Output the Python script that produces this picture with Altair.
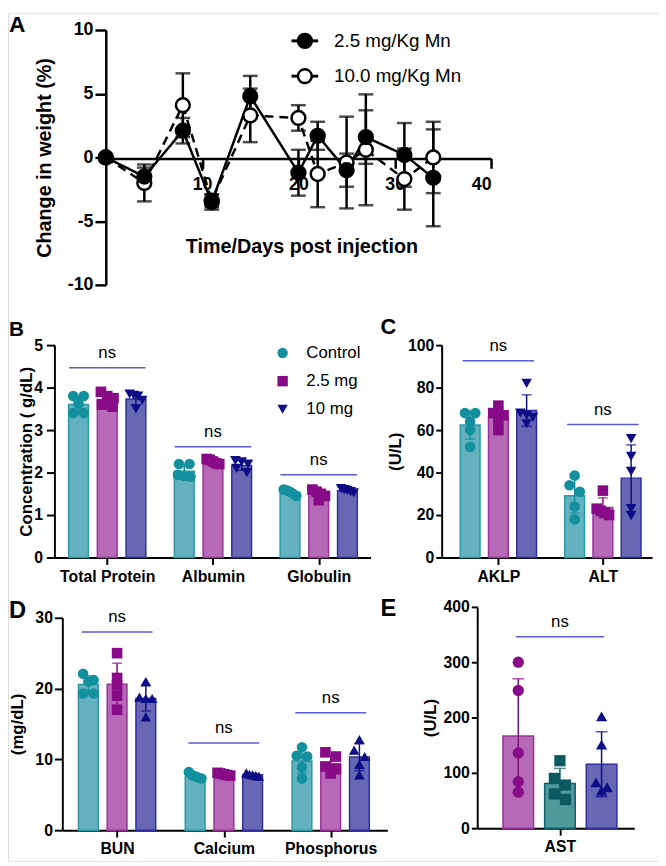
import altair as alt
import pandas as pd

FONT = "Liberation Sans, Arial, Helvetica, sans-serif"

# ---------------- Panel A : change in weight ----------------
A_SERIES = ["2.5 mg/Kg Mn", "10.0 mg/Kg Mn"]
A_DAYS = [0, 4, 8, 11, 15, 20, 22, 25, 27, 31, 34]
A_MEAN_25 = [0, -1.5, 2.1, -3.5, 4.8, -1.2, 1.7, -1.0, 1.6, 0.2, -1.6]
A_ERR_25 = [0, 0.7, 1.0, 0.6, 1.6, 1.8, 1.1, 1.3, 2.1, 2.5, 3.8]
A_MEAN_10 = [0, -2.0, 4.1, -3.4, 3.3, 3.1, -1.3, -0.4, 0.6, -1.7, 0.0]
A_ERR_10 = [0, 1.45, 2.5, 0.5, 2.1, 1.0, 2.6, 3.6, 4.35, 2.4, 2.8]

# ---------------- Panels B-E : serum chemistry ----------------
GROUPS = ["Control", "2.5 mg", "10 mg"]

B_CATS = ["Total Protein", "Albumin", "Globulin"]
B_CONTROL = [[3.8, 3.8, 3.62, 3.4, 3.4], [2.2, 2.2, 1.95, 1.92, 1.9], [1.6, 1.58, 1.55, 1.5, 1.45]]
B_MG25 = [[3.9, 3.8, 3.75, 3.6, 3.55], [2.32, 2.3, 2.26, 2.22, 2.2], [1.6, 1.55, 1.5, 1.45, 1.35]]
B_MG10 = [[3.85, 3.82, 3.8, 3.7, 3.5], [2.28, 2.25, 2.2, 2.1, 2.0], [1.62, 1.6, 1.58, 1.55, 1.52]]
B_NS = [4.47, 2.61, 1.95]

C_CATS = ["AKLP", "ALT"]
C_CONTROL = [[68, 68, 64, 60, 52], [38.6, 34, 31, 24, 18]]
C_MG25 = [[71.5, 68, 67, 64, 60], [31.5, 23, 22, 21, 20]]
C_MG10 = [[82, 68, 67, 66, 63], [56, 47.6, 40.6, 23, 19.7]]
C_NS = [92.6, 62.6]

D_CATS = ["BUN", "Calcium", "Phosphorus"]
D_CONTROL = [[22.1, 21.2, 21.0, 19.3, 19.3], [8.2, 7.8, 7.6, 7.4, 7.3], [11.7, 10.5, 10.4, 8.9, 7.3]]
D_MG25 = [[25, 21.5, 20.5, 19, 17], [8.1, 8.0, 7.9, 7.8, 7.7], [11.0, 10.4, 9.0, 8.6, 8.0]]
D_MG10 = [[21, 18.8, 18.6, 18.6, 16], [8.1, 7.9, 7.8, 7.7, 7.6], [12.8, 11.3, 10.4, 9.3, 7.8]]
D_NS = [28.0, 12.3, 16.6]

E_CATS = ["AST"]
E_CONTROL = [[300, 249, 136, 84, 65]]
E_MG25 = [[122, 90, 78, 62, 52]]
E_MG10 = [[202, 151, 83, 74, 68]]
E_NS = [346]

# ---------------- styles ----------------
BAR_FILL = ["#64b1bf", "#b569b6", "#6767b4"]
BAR_EDGE = ["#2a98a8", "#9a329b", "#2f2f9e"]
PT_COL = ["#12909e", "#870a87", "#0d0d85"]
E_BAR_FILL = ["#b569b6", "#4f989c", "#6767b4"]
E_BAR_EDGE = ["#9a329b", "#0f5f66", "#2f2f9e"]
E_PT_COL = ["#870a87", "#0b5a61", "#0d0d85"]
NS_COL = "#5b5bd6"
SHAPES_DOWN = ["circle", "square", "triangle-down"]
SHAPES_UP = ["circle", "square", "triangle-up"]

W, H = 658, 858


def swarm(vals, ppu, d):
    """GraphPad-like horizontal spreading of points that share a row (pixel offsets)."""
    order = sorted(range(len(vals)), key=lambda i: -vals[i])
    rows = []
    for i in order:
        if rows and abs(vals[rows[-1][0]] - vals[i]) * ppu < 0.6 * d:
            rows[-1].append(i)
        else:
            rows.append([i])
    off = [0.0] * len(vals)
    for r in rows:
        k = len(r)
        sp = d if k < 2 else min(d, 1.2 * d / (k - 1))
        for j, i in enumerate(r):
            off[i] = (j - (k - 1) / 2) * sp
    return off


def bar_panel(cats, ctrl, mid, hi, ns, L, fills, edges, pts, shapes):
    ppu = (L["y0"] - L["ytop"]) / L["ymax"]
    allv = [ctrl, mid, hi]
    rows = []
    for gi, cat in enumerate(cats):
        for ci, g in enumerate(GROUPS):
            vals = allv[ci][gi]
            xb = gi + (ci - 1) * L["off"] / L["step"]
            offs = swarm(vals, ppu, L["dot"])
            for v, o in zip(vals, offs):
                rows.append({"grp": g, "xbar": xb, "xpt": xb + o / L["step"], "value": v})
    df = pd.DataFrame(rows)
    h = L["nsh"] / L["step"]
    nsdf = pd.DataFrame({
        "xc": [float(i) for i in range(len(cats))],
        "x1": [i - h for i in range(len(cats))],
        "x2": [i + h for i in range(len(cats))],
        "y": ns,
        "label": ["ns"] * len(cats),
    })

    xs = alt.Scale(domain=[(L["x0"] - L["c0"]) / L["step"], (L["x1"] - L["c0"]) / L["step"]],
                   range=[L["x0"], L["x1"]], nice=False, zero=False)
    ys = alt.Scale(domain=[0, L["ymax"]], range=[L["y0"], L["ytop"]], nice=False, zero=False)
    lab = "[" + ",".join("'%s'" % c for c in cats) + "][datum.value]"
    xa = alt.Axis(orient="bottom", offset=-(H - L["y0"]), values=list(range(len(cats))),
                  labelExpr=lab, title=None, tickSize=7, labelPadding=4, labelFontSize=16,
                  labelFontWeight="bold", labelFont=FONT, domainWidth=2, tickWidth=2,
                  domainColor="black", tickColor="black", labelColor="black", grid=False)
    ya = alt.Axis(orient="left", offset=-L["x0"], values=L["yticks"], title=L["ytitle"],
                  titleX=L["titleX"], titleBaseline="alphabetic", titleFontSize=17,
                  titleFontWeight="bold", titleFont=FONT, titleColor="black",
                  tickSize=L["tick"], labelPadding=L["lpad"], labelFontSize=16,
                  labelFontWeight="bold", labelFont=FONT, labelColor="black",
                  domainWidth=2, tickWidth=2, domainColor="black", tickColor="black", grid=False)

    def X(f):
        return alt.X(f + ":Q", scale=xs, axis=xa, title=None)

    def Y(f):
        return alt.Y(f + ":Q", scale=ys, axis=ya, title=L["ytitle"])

    col = alt.Color("grp:N", scale=alt.Scale(domain=GROUPS, range=pts), legend=None)
    shp = alt.Shape("grp:N", scale=alt.Scale(domain=GROUPS, range=shapes), legend=None)

    base = alt.Chart(df)
    bars = base.transform_aggregate(mean="mean(value)", groupby=["xbar", "grp"]).mark_bar(
        size=L["bw"], strokeWidth=1.5, orient="vertical").encode(
        x=X("xbar"), y=Y("mean"),
        fill=alt.Fill("grp:N", scale=alt.Scale(domain=GROUPS, range=fills), legend=None),
        stroke=alt.Stroke("grp:N", scale=alt.Scale(domain=GROUPS, range=edges), legend=None))
    err = base.transform_aggregate(mean="mean(value)", sd="stdev(value)",
                                   groupby=["xbar", "grp"]).transform_calculate(
        lo="datum.mean - datum.sd", hi="datum.mean + datum.sd")
    e_rule = err.mark_rule(strokeWidth=1.5).encode(x=X("xbar"), y=Y("lo"), y2="hi:Q", color=col)
    e_lo = err.mark_tick(orient="horizontal", size=L["cap"], thickness=1.5).encode(
        x=X("xbar"), y=Y("lo"), color=col)
    e_hi = err.mark_tick(orient="horizontal", size=L["cap"], thickness=1.5).encode(
        x=X("xbar"), y=Y("hi"), color=col)
    points = base.mark_point(filled=True, size=L["dsize"], opacity=1, strokeWidth=0).encode(
        x=X("xpt"), y=Y("value"), color=col, shape=shp)
    ns_rule = alt.Chart(nsdf).mark_rule(color=NS_COL, strokeWidth=1.5).encode(
        x=X("x1"), x2="x2:Q", y=Y("y"))
    ns_text = alt.Chart(nsdf).mark_text(font=FONT, fontSize=17, color="black", dy=-10,
                                        baseline="alphabetic", align="center").encode(
        x=X("xc"), y=Y("y"), text="label:N")
    return alt.layer(bars, e_rule, e_lo, e_hi, points, ns_rule, ns_text)


# ---------------- Panel A ----------------
a_rows = []
for s, means, errs in [(A_SERIES[1], A_MEAN_10, A_ERR_10), (A_SERIES[0], A_MEAN_25, A_ERR_25)]:
    for d, m, e in zip(A_DAYS, means, errs):
        a_rows.append({"series": s, "day": d, "mean": m, "lo": m - e, "hi": m + e})
dfA = pd.DataFrame(a_rows)

A_Y0 = 147
axA_x = alt.Axis(orient="bottom", offset=-(H - A_Y0), values=[10, 20, 30, 40],
                 title="Time/Days post injection", titleX=297, titleY=95,
                 titleBaseline="alphabetic", titleFontSize=20, titleFontWeight="bold",
                 titleFont=FONT, titleColor="black", tickSize=10, labelPadding=7,
                 labelFontSize=18, labelFontWeight="bold", labelFont=FONT, labelColor="black",
                 domainWidth=2.5, tickWidth=2.5, domainColor="black", tickColor="black", grid=False)
axA_y = alt.Axis(orient="left", offset=-99, values=[-10, -5, 0, 5, 10], labelExpr="'' + datum.value",
                 title="Change in weight (%)", titleX=-56, titleBaseline="alphabetic",
                 titleFontSize=20, titleFontWeight="bold", titleFont=FONT, titleColor="black",
                 tickSize=11, labelPadding=2, labelFontSize=18, labelFontWeight="bold",
                 labelFont=FONT, labelColor="black", domainWidth=2.5, tickWidth=2.5,
                 domainColor="black", tickColor="black", grid=False)
sxA = alt.Scale(domain=[0, 40], range=[99, 489], nice=False, zero=False)
syA = alt.Scale(domain=[-10, 10], range=[275, 17], nice=False, zero=False)


def AX(f):
    return alt.X(f + ":Q", scale=sxA, axis=axA_x, title="Time/Days post injection")


def AY(f):
    return alt.Y(f + ":Q", scale=syA, axis=axA_y, title="Change in weight (%)")


A_FILL = alt.Scale(domain=A_SERIES, range=["black", "white"])
a_base = alt.Chart(dfA)
a_line = a_base.mark_line(color="black", strokeWidth=2.5).encode(
    x=AX("day"), y=AY("mean"),
    strokeDash=alt.StrokeDash("series:N", scale=alt.Scale(domain=A_SERIES, range=[[1, 0], [9, 6]]),
                              legend=None))
a_err = a_base.mark_rule(color="black", strokeWidth=2.5).encode(x=AX("day"), y=AY("lo"), y2="hi:Q")
a_lo = a_base.mark_tick(orient="horizontal", size=15, thickness=2.5, color="black").encode(
    x=AX("day"), y=AY("lo"))
a_hi = a_base.mark_tick(orient="horizontal", size=15, thickness=2.5, color="black").encode(
    x=AX("day"), y=AY("hi"))
a_pts = a_base.mark_point(shape="circle", filled=True, size=196, strokeWidth=2.5, opacity=1).encode(
    x=AX("day"), y=AY("mean"), fill=alt.Fill("series:N", scale=A_FILL, legend=None),
    stroke=alt.value("black"))
panelA = alt.layer(a_err, a_lo, a_hi, a_line, a_pts)

# legend of panel A (line + marker keys)
legA_df = pd.DataFrame({"series": A_SERIES})
legA_y = alt.Y("series:N", scale=alt.Scale(type="point", domain=A_SERIES, range=[28, 63.7], padding=0),
               axis=None)
legA = alt.layer(
    alt.Chart(legA_df).mark_rule(color="black", strokeWidth=3).encode(
        x=alt.value(287), x2=alt.value(314), y=legA_y),
    alt.Chart(legA_df).mark_point(shape="circle", filled=True, size=196, strokeWidth=2.5,
                                  opacity=1).encode(
        x=alt.value(300.5), y=legA_y, fill=alt.Fill("series:N", scale=A_FILL, legend=None),
        stroke=alt.value("black")),
    alt.Chart(legA_df).mark_text(align="left", baseline="middle", fontSize=19, font=FONT,
                                 color="black").encode(x=alt.value(330), y=legA_y, text="series:N"),
)

# ---------------- Panels B-E ----------------
LB = dict(x0=47, x1=367, c0=97, step=110.5, off=30, bw=20, dot=11, dsize=115, cap=10,
          y0=551, ytop=336, ymax=5, yticks=[0, 1, 2, 3, 4, 5], ytitle="Concentration ( g/dL)",
          titleX=-23, tick=8, lpad=4, nsh=40)
LC = dict(x0=439, x1=652, c0=494, step=111, off=30, bw=20, dot=11, dsize=115, cap=10,
          y0=551, ytop=336, ymax=100, yticks=[0, 20, 40, 60, 80, 100], ytitle="(U/L)",
          titleX=-42, tick=6, lpad=2, nsh=38)
LD = dict(x0=55, x1=384, c0=107, step=111.5, off=30, bw=20, dot=11, dsize=115, cap=10,
          y0=827, ytop=612, ymax=30, yticks=[0, 10, 20, 30], ytitle="(mg/dL)",
          titleX=-40, tick=8, lpad=2, nsh=37)
LE = dict(x0=475, x1=634, c0=559, step=45, off=45, bw=31, dot=12, dsize=130, cap=12,
          y0=825, ytop=601, ymax=400, yticks=[0, 100, 200, 300, 400], ytitle="(U/L)",
          titleX=-42, tick=6, lpad=2, nsh=47.5)

panelB = bar_panel(B_CATS, B_CONTROL, B_MG25, B_MG10, B_NS, LB, BAR_FILL, BAR_EDGE, PT_COL, SHAPES_DOWN)
panelC = bar_panel(C_CATS, C_CONTROL, C_MG25, C_MG10, C_NS, LC, BAR_FILL, BAR_EDGE, PT_COL, SHAPES_DOWN)
panelD = bar_panel(D_CATS, D_CONTROL, D_MG25, D_MG10, D_NS, LD, BAR_FILL, BAR_EDGE, PT_COL, SHAPES_UP)
panelE = bar_panel(E_CATS, E_CONTROL, E_MG25, E_MG10, E_NS, LE, E_BAR_FILL, E_BAR_EDGE, E_PT_COL,
                   SHAPES_UP)

# legend of panels B-D (group keys)
legB_df = pd.DataFrame({"grp": GROUPS})
legB_y = alt.Y("grp:N", scale=alt.Scale(type="point", domain=GROUPS, range=[344, 401], padding=0),
               axis=None)
legB = alt.layer(
    alt.Chart(legB_df).mark_point(filled=True, size=110, opacity=1, strokeWidth=0).encode(
        x=alt.value(278), y=legB_y,
        color=alt.Color("grp:N", scale=alt.Scale(domain=GROUPS, range=PT_COL), legend=None),
        shape=alt.Shape("grp:N", scale=alt.Scale(domain=GROUPS, range=SHAPES_DOWN), legend=None)),
    alt.Chart(legB_df).mark_text(align="left", baseline="middle", fontSize=17, font=FONT,
                                 color="black").encode(x=alt.value(302), y=legB_y, text="grp:N"),
)


def letter(t, x, y, size):
    return alt.Chart(pd.DataFrame({"t": [t]})).mark_text(
        align="left", baseline="alphabetic", fontSize=size, fontWeight="bold",
        font=FONT, color="black").encode(text="t:N", x=alt.value(x), y=alt.value(y))


letters = [letter("A", 1, 19, 23), letter("B", 1, 327, 21), letter("C", 377, 325, 22),
           letter("D", 1, 612, 24), letter("E", 377, 610, 24)]

chart = alt.layer(panelA, legA, panelB, legB, panelC, panelD, panelE, *letters).resolve_scale(
    x="independent", y="independent", color="independent", fill="independent",
    stroke="independent", shape="independent", strokeDash="independent"
).properties(
    width=W, height=H, autosize=alt.AutoSizeParams(type="none"), padding=0
).configure_view(stroke=None).configure(background="white")

chart.save("out.html", embed_options={"renderer": "svg", "actions": False})
